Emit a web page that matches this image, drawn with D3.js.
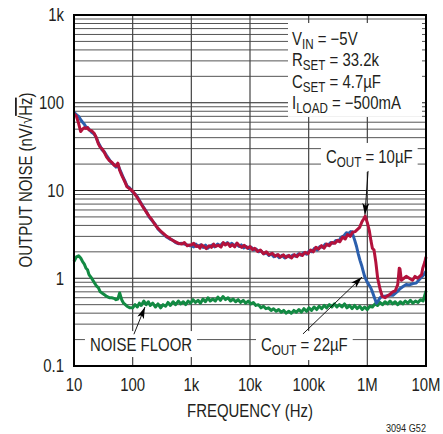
<!DOCTYPE html>
<html>
<head>
<meta charset="utf-8">
<script src="https://cdn.jsdelivr.net/npm/d3@7"></script>
<style>
body { margin: 0; background: #fff; }
svg { font-family: "Liberation Sans", Arial, sans-serif; }
</style>
</head>
<body>
<div id="chart"></div>
<script>
// axis ticks
var xTicks = [10, 100, 1e3, 1e4, 1e5, 1e6, 1e7];
var xTickLabels = ["10", "100", "1k", "10k", "100k", "1M", "10M"];
var yTicks = [0.1, 1, 10, 100, 1000];
var yTickLabels = ["0.1", "1", "10", "100", "1k"];

// [frequency Hz, noise nV/rtHz]
var cout10 = [[10,75],[11,70],[12,58],[13,47],[14,50],[15,52],[16,51],[17,52],[18,49],[20,48],[22,45],[24,40],[26,34],[28,31],[30,30],[33,27],[36,24],[40,22],[44,21],[48,19.5],[52,19],[56,20.5],[60,17],[65,15],[70,13.5],[75,12.2],[80,11],[90,10.4],[100,9.8],[110,9],[120,8.3],[135,7.3],[150,6.5],[170,5.7],[190,5.1],[210,4.7],[240,4.1],[270,3.7],[300,3.45],[340,3.2],[380,3.0],[430,2.85],[480,2.7],[540,2.6],[600,2.5],[680,2.45],[760,2.55],[850,2.35],[950,2.4],
  [1000,2.4],[1100,2.5],[1200,2.3],[1300,2.35],[1400,2.2],[1500,2.4],[1650,2.3],[1800,2.18],[2000,2.35],[2200,2.25],[2400,2.45],[2600,2.3],[2900,2.38],[3200,2.26],[3500,2.55],[3800,2.4],[4200,2.5],[4600,2.3],[5000,2.42],[5500,2.28],[6000,2.52],[6600,2.35],[7200,2.25],[8000,2.38],[9000,2.2],[1e4,2.3],[1.1e4,2.12],[1.2e4,2.2],[1.35e4,2.02],[1.5e4,2.1],[1.7e4,1.9],[1.9e4,2.0],[2.1e4,1.85],[2.4e4,1.92],[2.7e4,1.78],[3e4,1.86],[3.3e4,1.74],[3.7e4,1.85],[4.1e4,1.72],[4.6e4,1.82],[5.1e4,1.7],[5.7e4,1.86],[6.3e4,1.76],[7e4,1.9],[7.8e4,1.82],[8.7e4,1.98],[9.7e4,1.9],[1.08e5,2.1],[1.2e5,2.0],[1.33e5,2.25],[1.48e5,2.15],[1.65e5,2.35],[1.83e5,2.2],[2.03e5,2.45],[2.25e5,2.35],[2.5e5,2.55],[2.8e5,2.5],[3.1e5,2.7],[3.4e5,2.6],[3.8e5,2.95],[4.2e5,2.8],[4.6e5,3.15],[5.1e5,3.0],[5.6e5,3.35],[6.2e5,3.4],[6.8e5,3.6],[7.4e5,3.8],[8.1e5,4.4],[8.6e5,4.7],[9.2e5,5.1],
  [1e6,4.3],[1.08e6,3.5],[1.15e6,2.7],[1.22e6,2.2],[1.3e6,2.1],[1.4e6,1.5],[1.5e6,1.0],[1.65e6,0.75],[1.8e6,0.62],[2e6,0.6],[2.2e6,0.63],[2.4e6,0.65],[2.7e6,0.7],[3e6,0.72],[3.3e6,0.85],[3.5e6,1.3],[3.6e6,1.28],[3.8e6,0.95],[4.2e6,1.0],[4.6e6,1.05],[5.2e6,1.0],[5.9e6,0.95],[6.5e6,1.05],[7.2e6,1.0],[7.8e6,1.05],[8.4e6,1.1],[8.8e6,1.3],[9.3e6,1.45],[9.6e6,1.55],[1e7,1.75]];

var cout22 = [[10,78],[11,73],[12,70],[13,64],[14,60],[15,57],[16,53],[17,52],[18,50],[20,46],[22,44],[24,40],[26,35],[28,32],[30,29],[33,27.5],[36,25],[40,22.5],[44,20.5],[48,19.8],[52,18.5],[56,19.5],[60,17.5],[65,15.5],[70,13.8],[75,12.5],[80,11.3],[90,10.6],[100,9.6],[110,9.1],[120,8.5],[135,7.4],[150,6.6],[170,5.8],[190,5.0],[210,4.6],[240,4.15],[270,3.65],[300,3.4],[340,3.15],[380,2.95],[430,2.8],[480,2.72],[540,2.55],[600,2.48],[680,2.5],[760,2.45],[850,2.4],[950,2.35],
  [1000,2.35],[1100,2.28],[1200,2.45],[1300,2.3],[1450,2.4],[1600,2.25],[1750,2.38],[1900,2.2],[2100,2.32],[2300,2.4],[2500,2.28],[2800,2.45],[3100,2.35],[3400,2.5],[3700,2.42],[4100,2.55],[4500,2.4],[4900,2.5],[5400,2.35],[5900,2.45],[6500,2.3],[7100,2.4],[7800,2.22],[8600,2.3],[9500,2.18],[1.05e4,2.25],[1.15e4,2.1],[1.27e4,2.15],[1.4e4,2.0],[1.55e4,2.05],[1.72e4,1.9],[1.9e4,1.95],[2.1e4,1.82],[2.3e4,1.9],[2.55e4,1.76],[2.85e4,1.84],[3.15e4,1.72],[3.5e4,1.82],[3.9e4,1.7],[4.3e4,1.8],[4.8e4,1.74],[5.4e4,1.84],[6e4,1.78],[6.7e4,1.9],[7.4e4,1.83],[8.2e4,1.95],[9.2e4,1.88],[1.02e5,2.05],[1.13e5,2.0],[1.26e5,2.2],[1.4e5,2.1],[1.56e5,2.3],[1.73e5,2.25],[1.92e5,2.45],[2.13e5,2.38],[2.37e5,2.55],[2.63e5,2.5],[2.93e5,2.7],[3.25e5,2.65],[3.6e5,2.95],[4e5,3.05],[4.4e5,3.3],[4.8e5,3.25],[5.2e5,3.4],[5.5e5,3.38],
  [5.7e5,3.1],[6.1e5,2.7],[6.55e5,2.3],[7e5,1.9],[7.5e5,1.6],[8e5,1.4],[8.4e5,1.24],[9e5,1.05],[9.6e5,0.95],[1.05e6,0.85],[1.12e6,0.8],[1.2e6,0.72],[1.3e6,0.62],[1.43e6,0.52],[1.55e6,0.56],[1.65e6,0.6],[1.85e6,0.62],[2.1e6,0.63],[2.4e6,0.64],[2.73e6,0.64],[3.2e6,0.7],[3.6e6,0.76],[4e6,0.8],[4.6e6,0.85],[5.2e6,0.84],[6e6,0.87],[6.8e6,0.88],[7.5e6,0.95],[8.5e6,1.04],[9.2e6,1.1],[9.6e6,1.15],[1e7,1.2]];

var noiseFloor = [[10,1.55],[11,1.75],[12,1.8],[13,1.7],[14,1.55],[15,1.45],[16,1.3],[17,1.25],[18,1.1],[20,1.0],[22,0.9],[24,0.82],[26,0.78],[28,0.7],[30,0.68],[33,0.65],[36,0.62],[40,0.6],[44,0.6],[48,0.59],[52,0.57],[56,0.58],[60,0.68],[65,0.57],[70,0.52],[75,0.5],[80,0.48],[90,0.46],
  [100,0.46],[110,0.5],[120,0.47],[130,0.52],[140,0.49],[155,0.55],[170,0.5],[185,0.54],[200,0.49],[220,0.52],[245,0.47],[270,0.51],[300,0.46],[330,0.5],[365,0.48],[400,0.53],[440,0.49],[490,0.54],[540,0.5],[600,0.55],[660,0.51],[730,0.54],[800,0.5],[880,0.55],[970,0.52],[1070,0.57],[1180,0.53],[1300,0.56],[1430,0.52],[1580,0.58],[1740,0.54],[1920,0.6],[2100,0.55],[2330,0.58],[2570,0.55],[2840,0.61],[3130,0.56],[3460,0.62],[3820,0.57],[4220,0.6],[4660,0.55],[5150,0.58],[5690,0.54],[6280,0.57],[6940,0.53],[7660,0.56],[8460,0.52],[9340,0.55],
  [1.03e4,0.51],[1.14e4,0.53],[1.26e4,0.49],[1.39e4,0.5],[1.54e4,0.46],[1.7e4,0.48],[1.87e4,0.45],[2.07e4,0.46],[2.29e4,0.43],[2.52e4,0.45],[2.79e4,0.42],[3.08e4,0.44],[3.4e4,0.41],[3.76e4,0.43],[4.15e4,0.4],[4.58e4,0.42],[5.06e4,0.4],[5.59e4,0.43],[6.17e4,0.41],[6.82e4,0.44],[7.53e4,0.41],[8.32e4,0.45],[9.19e4,0.42],[1.01e5,0.46],[1.12e5,0.43],[1.24e5,0.47],[1.37e5,0.44],[1.51e5,0.48],[1.67e5,0.45],[1.84e5,0.49],[2.03e5,0.46],[2.25e5,0.5],[2.48e5,0.47],[2.74e5,0.51],[3.03e5,0.47],[3.34e5,0.5],[3.69e5,0.47],[4.08e5,0.51],[4.5e5,0.46],[4.98e5,0.49],[5.5e5,0.45],[6.07e5,0.49],[6.7e5,0.45],[7.4e5,0.48],[8.2e5,0.44],[9e5,0.47],
  [1e6,0.44],[1.1e6,0.48],[1.22e6,0.47],[1.35e6,0.51],[1.49e6,0.49],[1.64e6,0.53],[1.81e6,0.5],[2e6,0.54],[2.21e6,0.51],[2.44e6,0.55],[2.7e6,0.51],[2.98e6,0.54],[3.3e6,0.5],[3.64e6,0.54],[4.02e6,0.51],[4.44e6,0.55],[4.9e6,0.52],[5.42e6,0.56],[5.98e6,0.52],[6.61e6,0.55],[7.3e6,0.53],[8.06e6,0.57],[8.9e6,0.55],[9.4e6,0.62],[9.8e6,0.68],[1e7,0.72]];

var conditions = [["V", "IN", " = \u22125V"], ["R", "SET", " = 33.2k"], ["C", "SET", " = 4.7\u00b5F"], ["I", "LOAD", " = \u2212500mA"]];

var margin = {top: 15, right: 17, bottom: 68, left: 74};
var width = 443 - margin.left - margin.right;
var height = 434 - margin.top - margin.bottom;
var squeeze = 0.83;   // the original lettering is a condensed face

var svg = d3.select("#chart").append("svg")
    .attr("width", 443)
    .attr("height", 434);

var g = svg.append("g")
    .attr("transform", "translate(" + margin.left + "," + margin.top + ")");

var x = d3.scaleLog().domain([10, 1e7]).range([0, width]);
var y = d3.scaleLog().domain([0.1, 1000]).range([height, 0]);

function condense(sel) {
    sel.each(function() {
        var len = this.getComputedTextLength();
        d3.select(this).attr("textLength", len * squeeze).attr("lengthAdjust", "spacingAndGlyphs");
    });
}

// horizontal grid: every 1..9 of each decade
var hLines = [];
yTicks.slice(0, -1).forEach(function(d) {
    for (var k = 1; k < 10; k++) hLines.push(d * k);
});
g.selectAll(".hgrid").data(hLines).enter().append("line")
    .attr("class", "hgrid")
    .attr("x1", 0).attr("x2", width)
    .attr("y1", function(d) { return y(d); })
    .attr("y2", function(d) { return y(d); })
    .attr("stroke", function(d) { return yTicks.indexOf(d) >= 0 ? "#222" : "#555"; })
    .attr("stroke-width", 1);

g.selectAll(".vgrid").data(xTicks).enter().append("line")
    .attr("class", "vgrid")
    .attr("x1", function(d) { return x(d); })
    .attr("x2", function(d) { return x(d); })
    .attr("y1", 0).attr("y2", height)
    .attr("stroke", "#444")
    .attr("stroke-width", 1.2);

// text with an optional subscript
function subText(parent, xPos, yPos, parts) {
    var grp = parent.append("g");
    var t = grp.append("text")
        .attr("x", xPos).attr("y", yPos)
        .attr("font-size", 18)
        .attr("fill", "#231f20");
    parts.forEach(function(p, i) {
        var ts = t.append("tspan").text(p);
        if (parts.length > 1 && i == 1) ts.attr("font-size", 14).attr("dy", 4);
        if (parts.length > 1 && i == 2) ts.attr("dy", -4);
    });
    condense(t);
    return grp;
}

// box with test conditions
var legendBox = g.append("rect")
    .attr("fill", "#fff");
var legend = g.append("g");
conditions.forEach(function(c, i) {
    subText(legend, x(5.2e4), 30 + i * 21.3, c);
});
var lb = legend.node().getBBox();
legendBox.attr("x", lb.x - 4).attr("y", 8)
    .attr("width", width - 4 - (lb.x - 4))
    .attr("height", lb.y + lb.height + 1 - 8);

// curves
var line = d3.line()
    .x(function(d) { return x(d[0]); })
    .y(function(d) { return y(d[1]); });

var series = [
    {data: noiseFloor, color: "#138a43"},
    {data: cout22, color: "#2b5fad"},
    {data: cout10, color: "#b3123c"}
];
g.selectAll(".curve").data(series).enter().append("path")
    .attr("class", "curve")
    .attr("d", function(d) { return line(d.data); })
    .attr("fill", "none")
    .attr("stroke", function(d) { return d.color; })
    .attr("stroke-width", 3)
    .attr("stroke-linejoin", "round");

// annotation labels and arrows
var annotations = [
    {parts: ["C", "OUT", " = 10\u00b5F"], fx: 1.97e5, fy: 20.6, from: [1.03e6, 16.7], to: [9.1e5, 5.3]},
    {parts: ["C", "OUT", " = 22\u00b5F"], fx: 1.54e4, fy: 0.148, from: [8.0e4, 0.232], to: [8.1e5, 1.03]},
    {parts: ["NOISE FLOOR"], fx: 18.7, fy: 0.148, from: [105, 0.23], to: [162, 0.47]}
];

svg.append("defs").append("marker")
    .attr("id", "arrow")
    .attr("viewBox", "0 0 10 6")
    .attr("refX", 10).attr("refY", 3)
    .attr("markerWidth", 12).attr("markerHeight", 7)
    .attr("markerUnits", "userSpaceOnUse")
    .attr("orient", "auto")
    .append("path").attr("d", "M0,0L10,3L0,6L2.5,3Z").attr("fill", "#000");

annotations.forEach(function(a) {
    var bg = g.append("rect").attr("fill", "#fff");
    var grp = subText(g, x(a.fx), y(a.fy), a.parts);
    var b = grp.node().getBBox();
    bg.attr("x", b.x - 5).attr("y", b.y - 4).attr("width", b.width + 10).attr("height", b.height + 6);
    g.append("line")
        .attr("x1", x(a.from[0])).attr("y1", y(a.from[1]))
        .attr("x2", x(a.to[0])).attr("y2", y(a.to[1]))
        .attr("stroke", "#000").attr("stroke-width", 0.9)
        .attr("marker-end", "url(#arrow)");
});

// frame
g.append("rect")
    .attr("width", width).attr("height", height)
    .attr("fill", "none").attr("stroke", "#000").attr("stroke-width", 2);

// tick labels
g.selectAll(".xlab").data(xTicks).enter().append("text")
    .attr("class", "xlab")
    .attr("x", function(d) { return x(d); })
    .attr("y", height + 25)
    .attr("text-anchor", "middle")
    .attr("font-size", 18).attr("fill", "#231f20")
    .text(function(d, i) { return xTickLabels[i]; })
    .call(condense);

g.selectAll(".ylab").data(yTicks).enter().append("text")
    .attr("class", "ylab")
    .attr("x", -10)
    .attr("y", function(d) { return y(d); })
    .attr("dy", "0.36em")
    .attr("text-anchor", "end")
    .attr("font-size", 18).attr("fill", "#231f20")
    .text(function(d, i) { return yTickLabels[i]; })
    .call(condense);

// axis titles
g.append("text")
    .attr("x", width / 2).attr("y", height + 51)
    .attr("text-anchor", "middle")
    .attr("font-size", 18).attr("fill", "#231f20")
    .text("FREQUENCY (Hz)")
    .call(condense);

var yTitle = svg.append("text")
    .attr("transform", "translate(32,180) rotate(-90)")
    .attr("text-anchor", "middle")
    .attr("font-size", 18).attr("fill", "#231f20");
yTitle.append("tspan").text("OUTPUT NOISE (nV/\u221a");
yTitle.append("tspan").attr("text-decoration", "overline").text("Hz");
yTitle.append("tspan").text(")");
condense(yTitle);

svg.append("text")
    .attr("x", 426).attr("y", 432)
    .attr("text-anchor", "end")
    .attr("font-size", 11).attr("fill", "#231f20")
    .text("3094 G52")
    .call(condense);
</script>
</body>
</html>
